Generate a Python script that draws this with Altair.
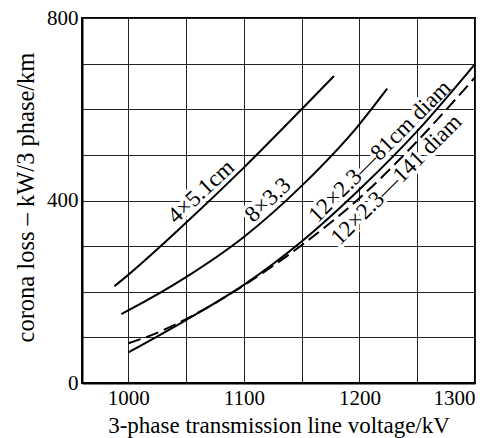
import altair as alt
import pandas as pd

# curve data (voltage kV, corona loss kW/3 phase/km)
c1_v = [988, 1000, 1050, 1100, 1150, 1178]
c1_p = [212, 237, 351, 472, 600, 673]
c2_v = [994, 1000, 1050, 1100, 1150, 1200, 1224]
c2_p = [151, 159, 232, 320, 432, 567, 645]
c3_v = [1000, 1050, 1100, 1150, 1200, 1250, 1300]
c3_p = [67, 138, 215, 310, 424, 552, 699]
c4_v = [1000, 1025, 1050, 1100, 1150, 1200, 1250, 1300]
c4_p = [87, 110, 140, 214, 302, 405, 530, 670]

# curve labels: anchor point on the curve and text angle
lab_text = ["4×5.1cm", "8×3.3", "12×2.3—81cm diam", "12×2.3—141 diam"]
lab_v = [1070, 1128, 1225, 1224]
lab_p = [400, 382, 489, 466]
lab_angle = [317, 317, 315, 315]

x_grid = [1000, 1050, 1100, 1150, 1200, 1250, 1300]
y_grid = [0, 100, 200, 300, 400, 500, 600, 700, 800]

FONT = "Liberation Serif"

def curve_df(v, p, name):
    return pd.DataFrame({"v": v, "p": p, "curve": name})

solid = pd.concat([curve_df(c1_v, c1_p, "a"), curve_df(c2_v, c2_p, "b"),
                   curve_df(c3_v, c3_p, "c")])
dashed = curve_df(c4_v, c4_p, "d")
labels = pd.DataFrame({"t": lab_text, "v": lab_v, "p": lab_p, "a": lab_angle})
lab_above = labels.iloc[:3]
lab_below = labels.iloc[3:]

xs = alt.Scale(domain=[960, 1300], nice=False, zero=False)
ys = alt.Scale(domain=[0, 800], nice=False)

xaxis = alt.Axis(values=x_grid, grid=True, gridColor="#222", gridWidth=1, gridOpacity=1,
                 labelExpr="datum.value % 100 == 0 ? datum.label : ''",
                 title="3-phase transmission line voltage/kV", titleFont=FONT, titleFontSize=23,
                 titleFontWeight="normal", titleColor="black", titleY=49,
                 titleBaseline="alphabetic",
                 labelFont=FONT, labelFontSize=21, labelColor="black", labelPadding=4,
                 ticks=False, domainColor="black", domainWidth=2, format="d")
yaxis = alt.Axis(values=y_grid, grid=True, gridColor="#222", gridWidth=1, gridOpacity=1,
                 labelExpr="datum.value % 400 == 0 ? datum.label : ''",
                 title="corona loss – kW/3 phase/km", titleFont=FONT, titleFontSize=24.5,
                 titleFontWeight="normal", titleColor="black", titleX=-44, titleY=179,
                 labelFont=FONT, labelFontSize=21, labelColor="black", labelPadding=4,
                 ticks=False, domainColor="black", domainWidth=2, format="d")

enc = dict(x=alt.X("v:Q", scale=xs), y=alt.Y("p:Q", scale=ys), text="t:N",
           angle=alt.Angle("a:Q", scale=None))

def text_layer(df, baseline, dy, halo):
    kw = dict(font=FONT, fontSize=23, align="center", baseline=baseline, dy=dy)
    if halo:
        kw.update(color="white", stroke="white", strokeWidth=7)
    else:
        kw.update(color="black")
    return alt.Chart(df).mark_text(**kw).encode(**enc)

halo_a = text_layer(lab_above, "alphabetic", -5, True)
halo_b = text_layer(lab_below, "top", 2, True)

base_solid = alt.Chart(solid).mark_line(color="black", strokeWidth=2, interpolate="monotone").encode(
    x=alt.X("v:Q", scale=xs, axis=xaxis),
    y=alt.Y("p:Q", scale=ys, axis=yaxis),
    detail="curve:N",
)
dash_line = alt.Chart(dashed).mark_line(color="black", strokeWidth=2, interpolate="monotone",
                                        strokeDash=[13, 6]).encode(
    x=alt.X("v:Q", scale=xs), y=alt.Y("p:Q", scale=ys))

text_a = text_layer(lab_above, "alphabetic", -5, False)
text_b = text_layer(lab_below, "top", 2, False)

chart = alt.layer(halo_a, halo_b, base_solid, dash_line, text_a, text_b).properties(
    width=393, height=365,
    autosize=alt.AutoSizeParams(type="none"),
    padding={"left": 82, "top": 18, "right": 24, "bottom": 55},
    background="white",
).configure_view(stroke="black", strokeWidth=2)

chart.save("out.html", embed_options={"renderer": "svg", "actions": False})
